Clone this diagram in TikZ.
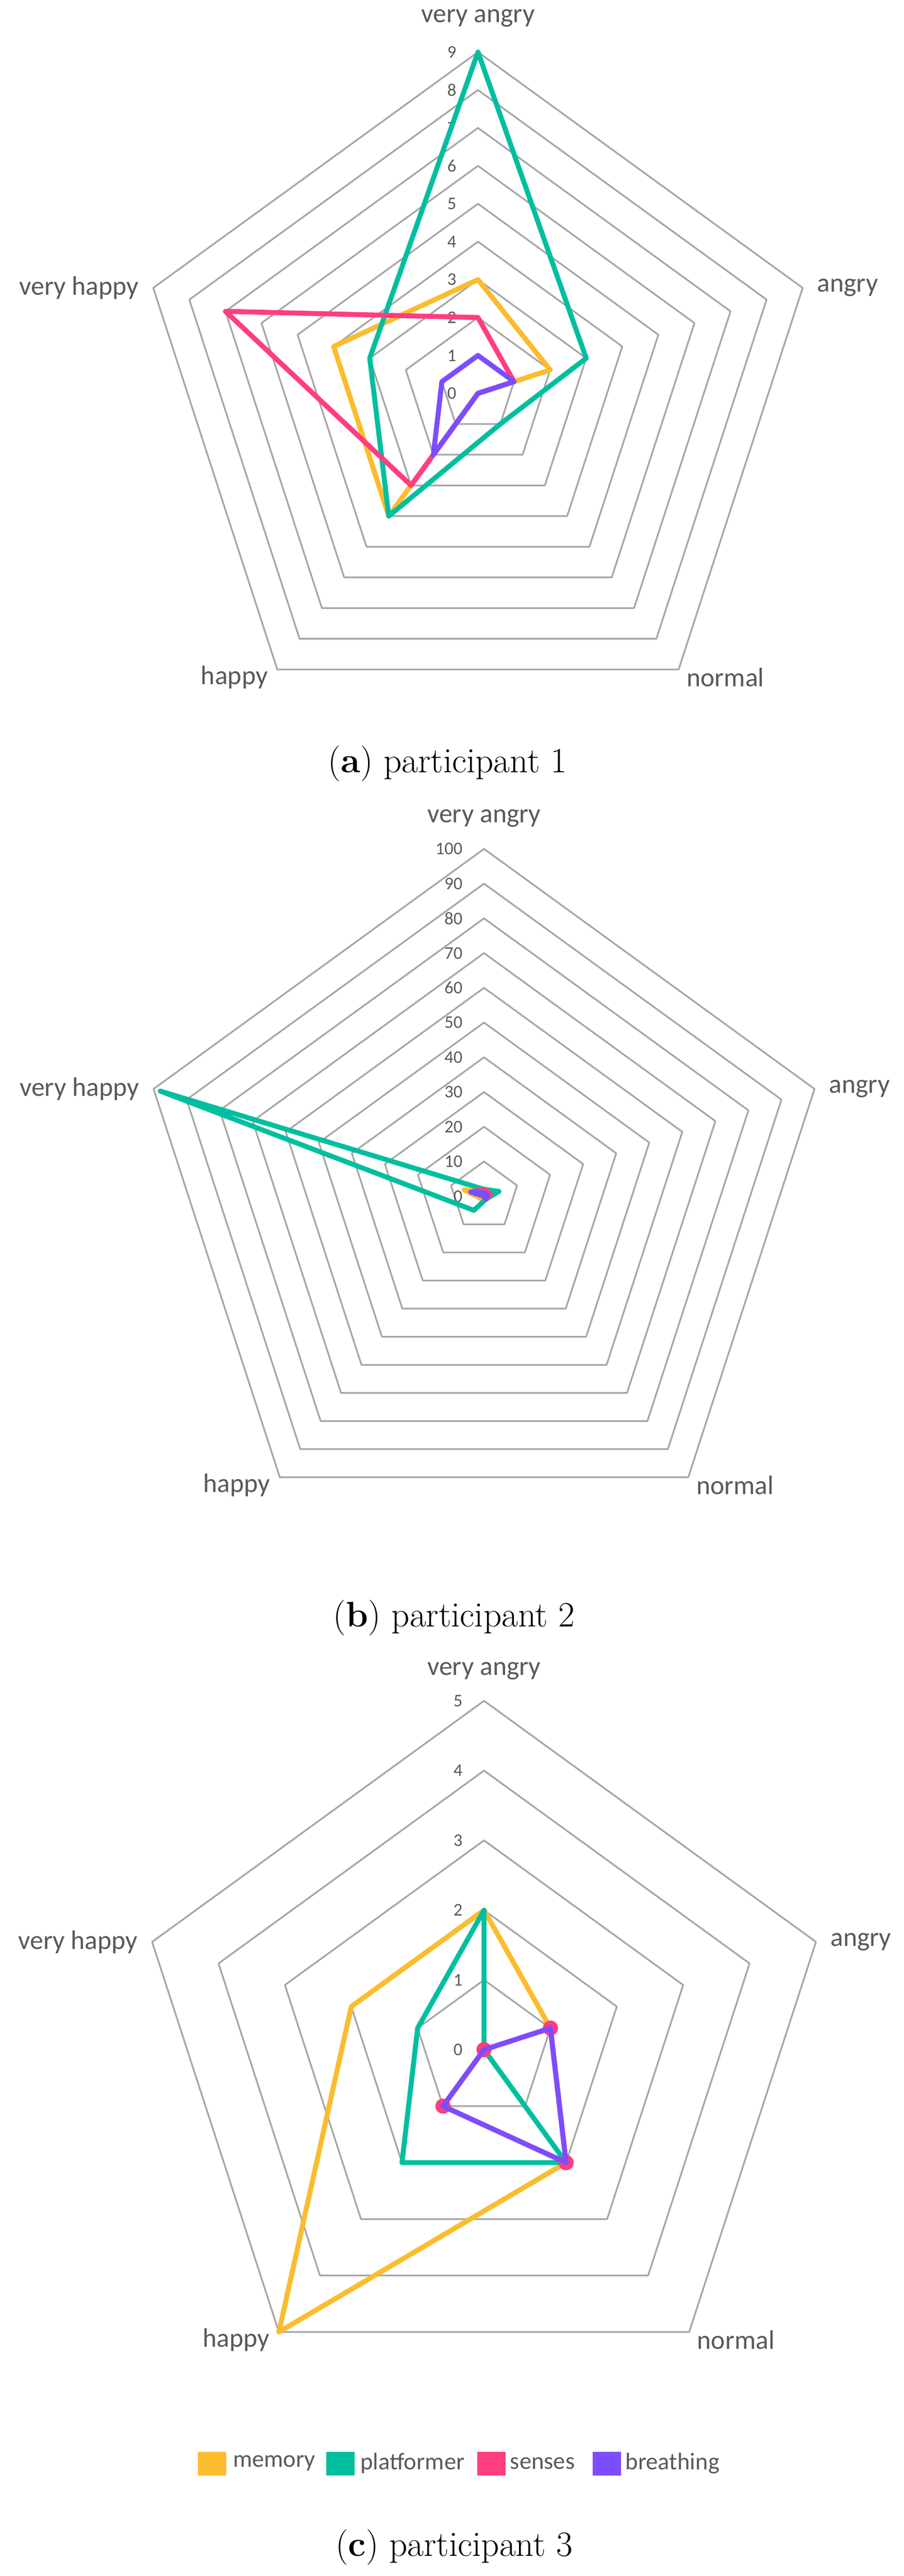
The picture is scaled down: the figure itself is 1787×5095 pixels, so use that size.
\documentclass[tikz,border=0pt]{standalone}
\usepackage{fontspec}
\newfontfamily\xlfont{Carlito}
\definecolor{cMem}{HTML}{FBBC2D}
\definecolor{cPla}{HTML}{00BFA0}
\definecolor{cSen}{HTML}{FF3D7F}
\definecolor{cBre}{HTML}{7C4DFF}
\definecolor{cRing}{HTML}{A6A6A6}
\definecolor{cTxt}{HTML}{595959}
\tikzset{
  ring/.style={draw=cRing,line width=0.95pt,line join=round},
  ser/.style={draw=#1,line width=2.8pt,line join=round},
  tick/.style={font=\xlfont\fontsize{10}{12}\selectfont,text=cTxt,anchor=east,inner sep=0pt},
  axl/.style={font=\xlfont\fontsize{15}{18}\selectfont,text=cTxt,inner sep=0pt},
  leg/.style={font=\xlfont\fontsize{13.5}{16}\selectfont,text=cTxt,anchor=west,inner sep=0pt},
  subcap/.style={font=\fontsize{20}{24}\selectfont,inner sep=0pt},
  senmark/.style={fill=cSen,draw=none}
}
% rings: cx, cy, unit, count, tick step, prefix
\newcommand\rdRings[6]{%
  \foreach \k in {1,...,#4}{%
    \draw[ring,shift={(#1,#2)}] (-90:\k*#3) -- (-18:\k*#3) -- (54:\k*#3) -- (126:\k*#3) -- (198:\k*#3) -- cycle;}%
  \foreach \k in {0,...,#4}{%
    \pgfmathtruncatemacro\lab{\k*#5}%
    \node[tick] (#6t\k) at ({#1-42},{#2-\k*#3}) {\lab};}%
}
\newcommand\rdSer[9]{%
  \draw[#1,shift={(#2,#3)}] (-90:#5*#4) -- (-18:#6*#4) -- (54:#7*#4) -- (126:#8*#4) -- (198:#9*#4) -- cycle;}
% axis labels: cx, cy, R, prefix, top offset
\newcommand\rdAxes[5]{%
  \node[axl] (#4va) at (#1,{#2-#3-#5}) {very angry};
  \node[axl,anchor=west] (#4an) at ({#1+0.951*#3+28},{#2-0.309*#3}) {angry};
  \node[axl,anchor=east] (#4vh) at ({#1-0.951*#3-28},{#2-0.309*#3}) {very happy};
  \node[axl,anchor=west] (#4no) at ({#1+0.588*#3+15},{#2+0.809*#3+16}) {normal};
  \node[axl,anchor=east] (#4ha) at ({#1-0.588*#3-18},{#2+0.809*#3+16}) {happy};
}
\begin{document}
\begin{tikzpicture}[x=0.01cm,y=-0.01cm]
\useasboundingbox[fill=white] (0,0) rectangle (1787,5095);
% ---------- (a) ----------
\rdRings{945}{778}{75}{9}{1}{a}
\rdAxes{945}{778}{675}{a}{67}
\rdSer{ser=cMem}{945}{778}{75}{3}{2}{0}{4}{4}
\rdSer{ser=cPla}{945}{778}{75}{9}{3}{1}{4}{3}
\rdSer{ser=cSen}{945}{778}{75}{2}{1}{0}{3}{7}
\rdSer{ser=cBre}{945}{778}{75}{1}{1}{0}{2}{1}
\node[subcap] (capa) at (885,1510) {(\textbf{a}) participant 1};
% ---------- (b) ----------
\rdRings{957}{2366}{68.7}{10}{10}{b}
\rdAxes{957}{2366}{687}{b}{60}
\rdSer{ser=cMem}{957}{2366}{6.87}{1}{1}{0}{1}{6}
\rdSer{ser=cPla}{957}{2366}{6.87}{2}{4.5}{1}{5}{98}
\rdSer{ser=cSen}{957}{2366}{6.87}{2}{2}{1}{0}{4}
\rdSer{ser=cBre}{957}{2366}{6.87}{1}{1}{1}{0}{4}
\node[subcap] (capb) at (898,3200) {(\textbf{b}) participant 2};
% ---------- (c) ----------
\rdRings{957}{4054}{138}{5}{1}{c}
\rdAxes{957}{4054}{690}{c}{59}
\rdSer{ser=cMem}{957}{4054}{138}{2}{1}{2}{5}{2}
\rdSer{ser=cPla}{957}{4054}{138}{2}{0}{2}{2}{1}
\rdSer{ser=cSen}{957}{4054}{138}{0}{1}{2}{1}{0}
\begin{scope}[shift={(957,4054)}]
  \fill[senmark] (-90:0) circle (15);
  \fill[senmark] (-18:138) circle (15);
  \fill[senmark] (54:276) circle (15);
  \fill[senmark] (126:138) circle (15);
\end{scope}
\rdSer{ser=cBre}{957}{4054}{138}{0}{1}{2}{1}{0}
% legend
\fill[cMem] (391,4849) rectangle (447,4896);
\node[leg] (lm) at (460,4872) {memory};
\fill[cPla] (645,4849) rectangle (701,4896);
\node[leg] (lp) at (712,4872) {platformer};
\fill[cSen] (944,4849) rectangle (1000,4896);
\node[leg] (ls) at (1008,4872) {senses};
\fill[cBre] (1172,4849) rectangle (1228,4896);
\node[leg] (lb) at (1236,4872) {breathing};
\node[subcap] (capc) at (898,5038) {(\textbf{c}) participant 3};
\end{tikzpicture}
\end{document}
